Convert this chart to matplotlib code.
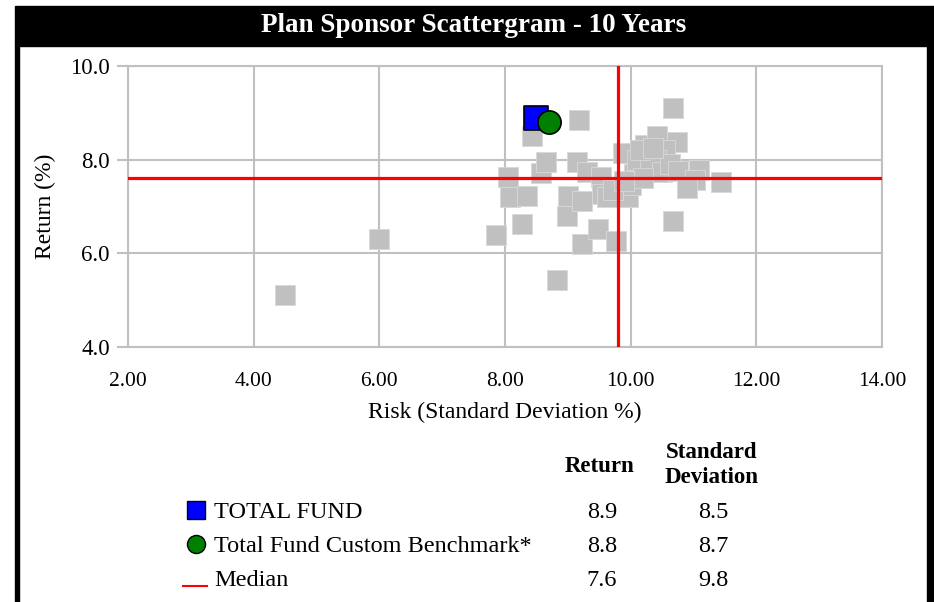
import matplotlib
matplotlib.use("Agg")
import matplotlib.pyplot as plt
from matplotlib.patches import Rectangle
from matplotlib.lines import Line2D

plt.rcParams['font.family'] = ['Liberation Serif', 'DejaVu Serif']

# universe of plan sponsors (risk, return)
peer_risk = [4.5, 6.0, 7.85, 8.05, 8.08, 8.35, 8.27, 8.43, 8.58, 8.65, 8.82,
             9.17, 9.15, 9.31, 9.52, 8.98, 9.0, 9.23, 9.22, 9.48, 9.77, 9.55,
             9.63, 9.96, 10.0, 10.05, 9.88, 10.1, 10.23, 10.42, 10.74, 10.68,
             10.55, 10.4, 10.3, 10.5, 10.62, 10.75, 11.08, 11.03, 10.9, 11.43,
             10.68, 10.2, 10.15, 9.72, 9.9, 10.35]
peer_return = [5.1, 6.3, 6.4, 7.62, 7.21, 7.23, 6.62, 8.51, 7.72, 7.96, 5.43,
               8.85, 7.94, 7.74, 7.64, 6.79, 7.23, 7.11, 6.19, 6.51, 6.26, 7.26,
               7.21, 7.21, 7.45, 7.7, 8.15, 8.0, 8.32, 8.51, 8.38, 9.11,
               8.2, 8.0, 7.85, 7.74, 7.9, 7.75, 7.79, 7.57, 7.40, 7.53,
               6.70, 7.6, 8.2, 7.35, 7.55, 8.25]

fund_name = "TOTAL FUND"
fund_return = 8.9
fund_sd = 8.5
bench_name = "Total Fund Custom Benchmark*"
bench_return = 8.8
bench_sd = 8.7
median_return = 7.6
median_sd = 9.8

xticks = [2, 4, 6, 8, 10, 12, 14]
yticks = [4, 6, 8, 10]

W, H = 934, 602
fig = plt.figure(figsize=(W / 100, H / 100), dpi=100)

# title bar and side borders
fig.patches.append(Rectangle((15 / W, 1 - 46 / H), (W - 15) / W, 40 / H,
                             transform=fig.transFigure, color='black', zorder=0))
fig.patches.append(Rectangle((15 / W, 0), 4 / W, 1 - 46 / H,
                             transform=fig.transFigure, color='black', zorder=0))
fig.patches.append(Rectangle((927 / W, 0), 7 / W, 1 - 46 / H,
                             transform=fig.transFigure, color='black', zorder=0))
fig.text(474 / W, 1 - 25 / H, "Plan Sponsor Scattergram - 10 Years",
         color='white', fontsize=19.5, fontweight='bold', ha='center', va='center')

ax = fig.add_axes([128 / W, 1 - 347 / H, 754 / W, 281 / H])
ax.scatter(peer_risk, peer_return, marker='s', s=215, color='#c0c0c0',
           edgecolors='#d8d8d8', linewidths=0.6, zorder=2)
ax.axhline(median_return, color='red', lw=2.3, zorder=3)
ax.axvline(median_sd, color='red', lw=2.3, zorder=3)
ax.scatter([fund_sd], [fund_return], marker='s', s=280, color='#0000ff',
           edgecolors='black', linewidths=1.2, zorder=4)
ax.scatter([bench_sd], [bench_return], marker='o', s=280, color='#008000',
           edgecolors='black', linewidths=1.2, zorder=5)

ax.set_xlim(2, 14)
ax.set_ylim(4, 10)
ax.set_xticks(xticks)
ax.set_yticks(yticks)
ax.set_xticklabels([f"{t:.2f}" for t in xticks], fontsize=15.5)
ax.set_yticklabels([f"{t:.1f}" for t in yticks], fontsize=16.5)
ax.grid(True, color='#c0c0c0', lw=1.5, zorder=0)
ax.set_axisbelow(True)
for sp in ax.spines.values():
    sp.set_color('#c0c0c0')
    sp.set_linewidth(1.5)
ax.tick_params(color='#c0c0c0', length=8, width=1.5)
ax.tick_params(axis='x', length=0, pad=18)
ax.tick_params(axis='y', pad=5)
ax.set_xlabel("Risk (Standard Deviation %)", fontsize=17, labelpad=8)
ax.set_ylabel("Return (%)", fontsize=17, labelpad=10)

# summary table below the chart
fig.text(600 / W, 1 - 466 / H, "Return", fontsize=16.5, fontweight='bold',
         ha='center', va='center')
fig.text(712 / W, 1 - 465 / H, "Standard\nDeviation", fontsize=16.5,
         fontweight='bold', ha='center', va='center', linespacing=1.25)

rows = [(fund_name, fund_return, fund_sd),
        (bench_name, bench_return, bench_sd),
        ("Median", median_return, median_sd)]
row_y = [512, 546, 580]
for (name, r, sd), y in zip(rows, row_y):
    fy = 1 - y / H
    fig.text(214 / W, fy, name, fontsize=17.5, ha='left', va='center')
    fig.text(602 / W, fy, f"{r:.1f}", fontsize=17.5, ha='center', va='center')
    fig.text(713 / W, fy, f"{sd:.1f}", fontsize=17.5, ha='center', va='center')

fig.lines.append(Line2D([196 / W], [1 - 510 / H], marker='s', markersize=12.5,
                        color='#0000ff', markeredgecolor='black', markeredgewidth=1,
                        transform=fig.transFigure))
fig.lines.append(Line2D([196 / W], [1 - 544 / H], marker='o', markersize=13,
                        color='#008000', markeredgecolor='black', markeredgewidth=1,
                        transform=fig.transFigure))
fig.lines.append(Line2D([183 / W, 207 / W], [1 - 586 / H, 1 - 586 / H],
                        color='red', lw=1.5, transform=fig.transFigure))

fig.savefig("out.png", dpi=100)
